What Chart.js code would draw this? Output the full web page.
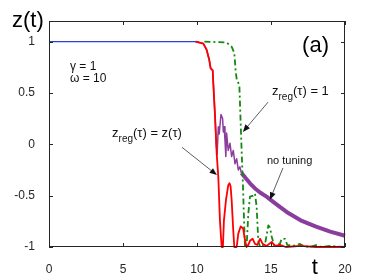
<!DOCTYPE html>
<html>
<head>
<meta charset="utf-8">
<script src="https://cdn.jsdelivr.net/npm/chart.js@4.4.1/dist/chart.umd.min.js"></script>
<style>
  html, body { margin: 0; padding: 0; background: #fff; }
</style>
</head>
<body>
<canvas id="grafico" width="382" height="278"></canvas>
<script>
const xTicks = [0, 5, 10, 15, 20];
const yTicks = [-1, -0.5, 0, 0.5, 1];

// sin regulación previa (azul)
const azulT = [0, 10.1];
const azulZ = [1, 1];

// z_reg(τ) = z(τ)
const rojoT = [9.9, 10.43, 10.65, 10.83, 10.92, 11.06, 11.1, 11.22, 11.33, 11.44, 11.55, 11.62, 11.67, 11.75, 11.82, 11.96, 12.11, 12.2, 12.27, 12.34, 12.45, 12.52, 12.68, 12.79, 12.95, 13.12, 13.24, 13.35, 13.47, 13.58, 13.76, 13.92, 14.08, 14.26, 14.44, 14.7, 15.05, 15.27, 15.6, 16, 17, 18, 19, 20];
const rojoZ = [1, 0.98, 0.92, 0.82, 0.74, 0.72, 0.6, 0.27, -0.09, -0.32, -0.74, -0.9, -1, -1, -0.74, -0.54, -0.4, -0.38, -0.41, -0.54, -0.84, -1, -1, -0.87, -0.8, -0.82, -0.93, -1, -0.98, -0.94, -0.92, -0.97, -0.98, -0.92, -0.97, -0.99, -0.95, -0.99, -0.98, -1, -0.99, -1, -1, -1];

// z_reg(τ) = 1
const verdeT = [10.5, 12.0, 12.34, 12.52, 12.62, 12.7, 12.86, 12.95, 13.0, 13.1, 13.18, 13.24, 13.35, 13.47, 13.58, 13.8, 13.92, 14.03, 14.14, 14.26, 14.6, 14.82, 14.93, 15.05, 15.2, 15.6, 15.72, 15.95, 16.1, 16.5, 16.96, 17.2, 17.6, 18.1, 18.4, 19, 20];
const verdeZ = [1, 0.99, 0.95, 0.89, 0.7, 0.62, 0.58, 0.21, 0.0, -0.38, -0.74, -1, -1, -0.67, -0.51, -0.5, -0.48, -0.61, -0.94, -1, -0.97, -0.79, -0.81, -0.9, -0.98, -0.97, -0.92, -0.92, -0.98, -0.99, -0.97, -0.99, -1, -0.98, -1, -0.99, -1];

// no tuning
const moradoT = [9.9, 10.43, 10.65, 10.83, 10.92, 11.06, 11.1, 11.22, 11.3, 11.36, 11.44, 11.5, 11.62, 11.73, 11.78, 11.84, 11.89, 11.95, 12.0, 12.11, 12.23, 12.34, 12.45, 12.57, 12.68, 12.79, 12.9, 13.0, 13.24, 13.58, 13.92, 14.26, 14.7, 15.15, 15.6, 16.17, 17, 18, 19, 20];
const moradoZ = [1, 0.98, 0.92, 0.82, 0.74, 0.72, 0.6, 0.27, 0.0, -0.1, 0.17, 0.1, 0.29, 0.25, 0.12, 0.17, 0.04, -0.12, 0.11, -0.06, 0.01, -0.12, -0.06, -0.19, -0.14, -0.25, -0.22, -0.28, -0.32, -0.38, -0.43, -0.47, -0.51, -0.56, -0.61, -0.67, -0.74, -0.8, -0.85, -0.89];

// textos y flechas (coordenadas de datos)
const textos = [
  { t: 1.42, z: 0.726, txt: "\u03B3 = 1" },
  { t: 1.42, z: 0.61, txt: "\u03C9 = 10" },
  { t: 14.73, z: -0.19, txt: "no tuning" }
];
const etiquetasReg = [
  { t: 15.07, z: 0.48, resto: "(\u03C4) = 1" },
  { t: 4.26, z: 0.07, resto: "(\u03C4) = z(\u03C4)" }
];
const flechas = [
  { desde: [14.8, 0.41], hasta: [13.1, 0.12] },
  { desde: [8.99, -0.03], hasta: [11.35, -0.3] },
  { desde: [15.81, -0.23], hasta: [14.93, -0.54] }
];

const puntos = (ts, zs) => ts.map((t, i) => ({ x: t, y: zs[i] }));
const FUENTE = "'Liberation Sans', Arial, sans-serif";
const EJE = "#262626";

const anotaciones = {
  id: "anotaciones",
  afterDatasetsDraw(chart) {
    const { ctx, chartArea: a, scales: { x, y } } = chart;
    ctx.save();

    // marco
    ctx.strokeStyle = EJE;
    ctx.lineWidth = 1;
    ctx.strokeRect(a.left + 0.5, a.top + 0.5, a.right - a.left - 1, a.bottom - a.top - 1);

    // ticks hacia dentro
    const largo = 4;
    ctx.beginPath();
    xTicks.forEach(v => {
      const px = Math.round(x.getPixelForValue(v)) + 0.5;
      ctx.moveTo(px, a.bottom); ctx.lineTo(px, a.bottom - largo);
      ctx.moveTo(px, a.top); ctx.lineTo(px, a.top + largo);
    });
    yTicks.forEach(v => {
      const py = Math.round(y.getPixelForValue(v)) + 0.5;
      ctx.moveTo(a.left, py); ctx.lineTo(a.left + largo, py);
      ctx.moveTo(a.right, py); ctx.lineTo(a.right - largo, py);
    });
    ctx.stroke();

    // textos simples
    ctx.fillStyle = "#111";
    ctx.textBaseline = "alphabetic";
    ctx.textAlign = "left";
    textos.forEach((item, i) => {
      ctx.font = (i < 2 ? "12px " : "11px ") + FUENTE;
      ctx.fillText(item.txt, x.getPixelForValue(item.t), y.getPixelForValue(item.z));
    });

    // z_reg(τ) ...
    etiquetasReg.forEach(item => {
      let px = x.getPixelForValue(item.t);
      const py = y.getPixelForValue(item.z);
      ctx.font = "13px " + FUENTE;
      ctx.fillText("z", px, py);
      px += ctx.measureText("z").width;
      ctx.font = "10px " + FUENTE;
      ctx.fillText("reg", px, py + 5);
      px += ctx.measureText("reg").width;
      ctx.font = "13px " + FUENTE;
      ctx.fillText(item.resto, px, py);
    });

    // flechas
    ctx.strokeStyle = "#333";
    ctx.fillStyle = "#111";
    ctx.lineWidth = 0.8;
    flechas.forEach(f => {
      const x0 = x.getPixelForValue(f.desde[0]), y0 = y.getPixelForValue(f.desde[1]);
      const x1 = x.getPixelForValue(f.hasta[0]), y1 = y.getPixelForValue(f.hasta[1]);
      const ang = Math.atan2(y1 - y0, x1 - x0);
      ctx.beginPath();
      ctx.moveTo(x0, y0);
      ctx.lineTo(x1 - 5 * Math.cos(ang), y1 - 5 * Math.sin(ang));
      ctx.stroke();
      ctx.beginPath();
      ctx.moveTo(x1, y1);
      ctx.lineTo(x1 - 8 * Math.cos(ang - 0.38), y1 - 8 * Math.sin(ang - 0.38));
      ctx.lineTo(x1 - 8 * Math.cos(ang + 0.38), y1 - 8 * Math.sin(ang + 0.38));
      ctx.closePath();
      ctx.fill();
    });

    // (a), z(t), t
    ctx.fillStyle = "#000";
    ctx.font = "22px " + FUENTE;
    ctx.fillText("(a)", x.getPixelForValue(17.1), y.getPixelForValue(0.9));
    ctx.fillText("z(t)", a.left - 37, a.top + 6);
    ctx.fillText("t", x.getPixelForValue(17.75), a.bottom + 27);

    ctx.restore();
  }
};

new Chart(document.getElementById("grafico"), {
  type: "line",
  data: {
    datasets: [
      {
        label: "z_reg = z",
        data: puntos(rojoT, rojoZ),
        borderColor: "#ff0000",
        borderWidth: 1.8,
        order: 1
      },
      {
        label: "z_reg = 1",
        data: puntos(verdeT, verdeZ),
        borderColor: "#118a11",
        borderWidth: 1.8,
        borderDash: [6, 3, 2, 3],
        order: 2
      },
      {
        label: "no tuning",
        data: puntos(moradoT, moradoZ),
        borderColor: "#8b3d9e",
        borderWidth: 1.5,
        segment: {
          borderWidth: c => (c.p0.parsed.x >= 13 ? 4 : 1.5)
        },
        order: 3
      },
      {
        label: "base",
        data: puntos(azulT, azulZ),
        borderColor: "#2f3fdc",
        borderWidth: 1.3,
        order: 4
      }
    ]
  },
  options: {
    responsive: false,
    animation: false,
    devicePixelRatio: 1,
    layout: { padding: { top: 21, right: 37, left: 0, bottom: 0 } },
    elements: { point: { radius: 0 }, line: { tension: 0, borderJoinStyle: "round" } },
    datasets: { line: { clip: 4, fill: false } },
    plugins: { legend: { display: false }, tooltip: { enabled: false } },
    scales: {
      x: {
        type: "linear",
        min: 0,
        max: 20,
        grid: { display: false },
        border: { display: false },
        afterBuildTicks: s => { s.ticks = xTicks.map(v => ({ value: v })); },
        afterFit: s => { s.height = 31; },
        ticks: { padding: 7, color: EJE, font: { family: FUENTE, size: 12 }, maxRotation: 0, callback: v => String(v) }
      },
      y: {
        type: "linear",
        min: -1,
        max: 1.2,
        grid: { display: false },
        border: { display: false },
        afterBuildTicks: s => { s.ticks = yTicks.map(v => ({ value: v })); },
        afterFit: s => { s.width = 49; },
        ticks: { padding: 6, color: EJE, font: { family: FUENTE, size: 12 }, callback: v => String(v) }
      }
    }
  },
  plugins: [anotaciones]
});
</script>
</body>
</html>
